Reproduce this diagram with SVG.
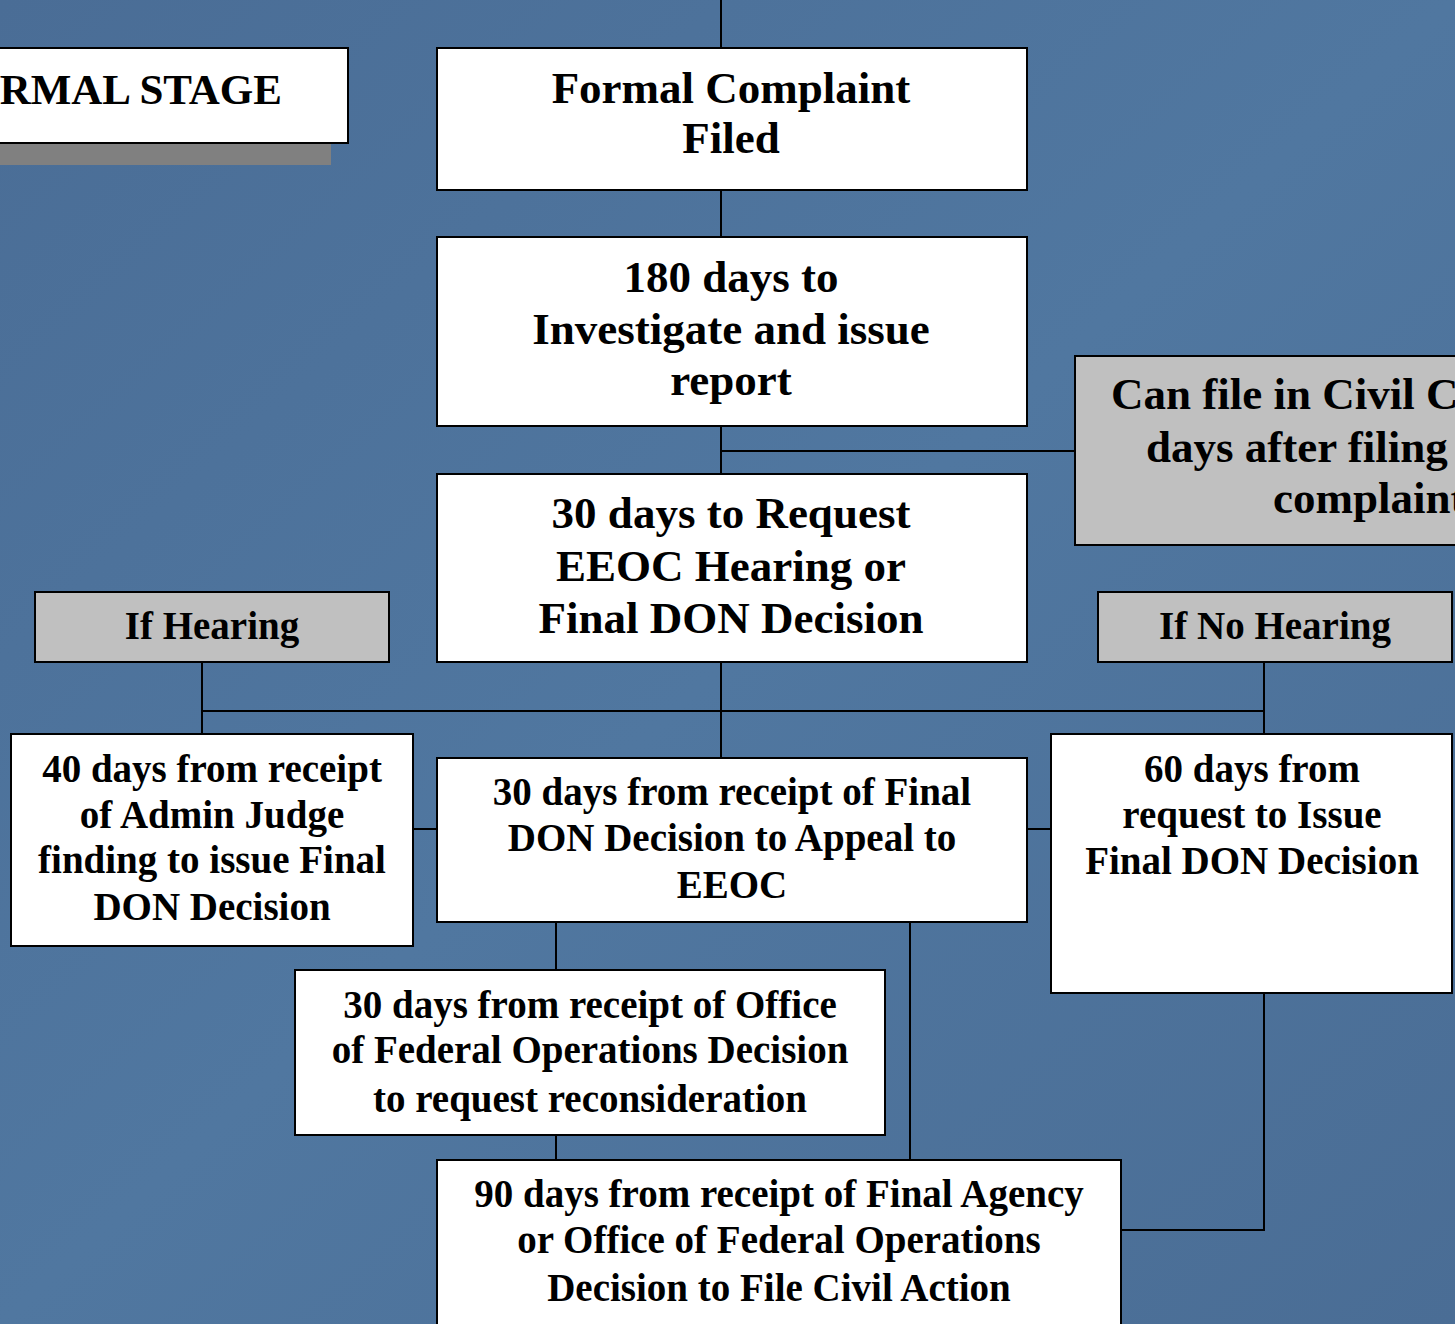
<svg xmlns="http://www.w3.org/2000/svg" width="1455" height="1324" viewBox="0 0 1455 1324">
<defs>
<linearGradient id="bg" x1="0" y1="0" x2="1" y2="1">
<stop offset="0" stop-color="#4a6d96"/>
<stop offset="0.5" stop-color="#5077a0"/>
<stop offset="1" stop-color="#4a6d95"/>
</linearGradient>
<style>
.box{fill:#ffffff;stroke:#000000;stroke-width:2}
.gbox{fill:#c0c0c0;stroke:#000000;stroke-width:2}
.ln{stroke:#000000;stroke-width:2;fill:none}
text{font-family:"Liberation Serif","Times New Roman",serif;font-weight:bold;fill:#000000}
.L{font-size:45px;text-anchor:middle}
.S{font-size:39px;text-anchor:middle}
.Ls{font-size:45px}
</style>
</defs>
<rect x="0" y="0" width="1455" height="1324" fill="url(#bg)"/>

<g id="connectors">
<path class="ln" d="M721 0V48"/>
<path class="ln" d="M721 190V237"/>
<path class="ln" d="M721 426V474"/>
<path class="ln" d="M721 451H1075"/>
<path class="ln" d="M721 662V758"/>
<path class="ln" d="M202 711H1264"/>
<path class="ln" d="M202 662V734"/>
<path class="ln" d="M1264 662V734"/>
<path class="ln" d="M413 829H437"/>
<path class="ln" d="M1027 829H1051"/>
<path class="ln" d="M556 922V970"/>
<path class="ln" d="M556 1135V1160"/>
<path class="ln" d="M910 922V1160"/>
<path class="ln" d="M1264 993V1230H1121"/>
</g>

<g id="stage">
<rect x="-20" y="70" width="351" height="95" fill="#808080"/>
<rect class="box" x="-4" y="48" width="352" height="95"/>
<text x="282" y="104" font-size="43" text-anchor="end">RMAL STAGE</text>
</g>

<g id="formal-complaint">
<rect class="box" x="437" y="48" width="590" height="142"/>
<text class="L" x="731" y="103">Formal Complaint</text>
<text class="L" x="731" y="153">Filed</text>
</g>

<g id="investigate">
<rect class="box" x="437" y="237" width="590" height="189"/>
<text class="L" x="731" y="292">180 days to</text>
<text class="L" x="731" y="344">Investigate and issue</text>
<text class="L" x="731" y="395">report</text>
</g>

<g id="civil-court">
<rect class="gbox" x="1075" y="356" width="390" height="189"/>
<text class="Ls" x="1111" y="409">Can file in Civil C</text>
<text class="Ls" x="1146" y="462">days after filing</text>
<text class="Ls" x="1273" y="513">complaint</text>
</g>

<g id="request-hearing">
<rect class="box" x="437" y="474" width="590" height="188"/>
<text class="L" x="731" y="528">30 days to Request</text>
<text class="L" x="731" y="581">EEOC Hearing or</text>
<text class="L" x="731" y="633">Final DON Decision</text>
</g>

<g id="if-hearing">
<rect class="gbox" x="35" y="592" width="354" height="70"/>
<text class="S" x="212" y="639">If Hearing</text>
</g>

<g id="if-no-hearing">
<rect class="gbox" x="1098" y="592" width="354" height="70"/>
<text class="S" x="1275" y="639">If No Hearing</text>
</g>

<g id="admin-judge">
<rect class="box" x="11" y="734" width="402" height="212"/>
<text class="S" x="212" y="782">40 days from receipt</text>
<text class="S" x="212" y="828">of Admin Judge</text>
<text class="S" x="212" y="873">finding to issue Final</text>
<text class="S" x="212" y="920">DON Decision</text>
</g>

<g id="appeal-eeoc">
<rect class="box" x="437" y="758" width="590" height="164"/>
<text class="S" x="732" y="805">30 days from receipt of Final</text>
<text class="S" x="732" y="851">DON Decision to Appeal to</text>
<text class="S" x="732" y="898">EEOC</text>
</g>

<g id="issue-final">
<rect class="box" x="1051" y="734" width="401" height="259"/>
<text class="S" x="1252" y="782">60 days from</text>
<text class="S" x="1252" y="828">request to Issue</text>
<text class="S" x="1252" y="874">Final DON Decision</text>
</g>

<g id="reconsideration">
<rect class="box" x="295" y="970" width="590" height="165"/>
<text class="S" x="590" y="1018">30 days from receipt of Office</text>
<text class="S" x="590" y="1063">of Federal Operations Decision</text>
<text class="S" x="590" y="1112">to request reconsideration</text>
</g>

<g id="civil-action">
<rect class="box" x="437" y="1160" width="684" height="180"/>
<text class="S" x="779" y="1207">90 days from receipt of Final Agency</text>
<text class="S" x="779" y="1253">or Office of Federal Operations</text>
<text class="S" x="779" y="1301">Decision to File Civil Action</text>
</g>
</svg>
